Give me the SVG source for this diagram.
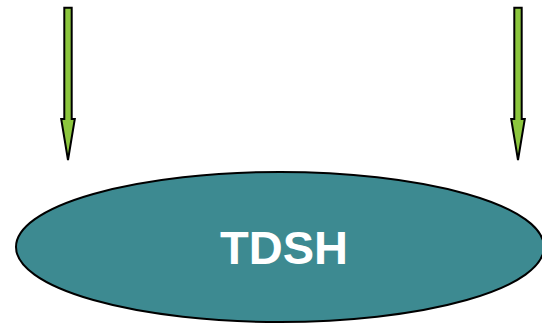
<svg xmlns="http://www.w3.org/2000/svg" width="542" height="323" viewBox="0 0 542 323">
<style>
.arrow{fill:#8cc63e;stroke:#000;stroke-width:2;stroke-linejoin:miter}
.node{fill:#3d8a91;stroke:#000;stroke-width:2}
.label{font-family:"Liberation Sans",Arial,sans-serif;font-weight:bold;font-size:47px;fill:#fff;text-anchor:middle}
</style>
<g id="connectors">
<path class="arrow" d="M64.3,7.7 H71.7 V119 H74.8 L68,160 L61.2,119 H64.3 Z"/>
<path class="arrow" d="M514.3,7.7 H521.7 V119 H524.8 L518,160 L511.2,119 H514.3 Z"/>
</g>
<g id="tdsh">
<ellipse class="node" cx="280" cy="247" rx="264" ry="75"/>
<text class="label" x="284" y="264">TDSH</text>
</g>
</svg>
